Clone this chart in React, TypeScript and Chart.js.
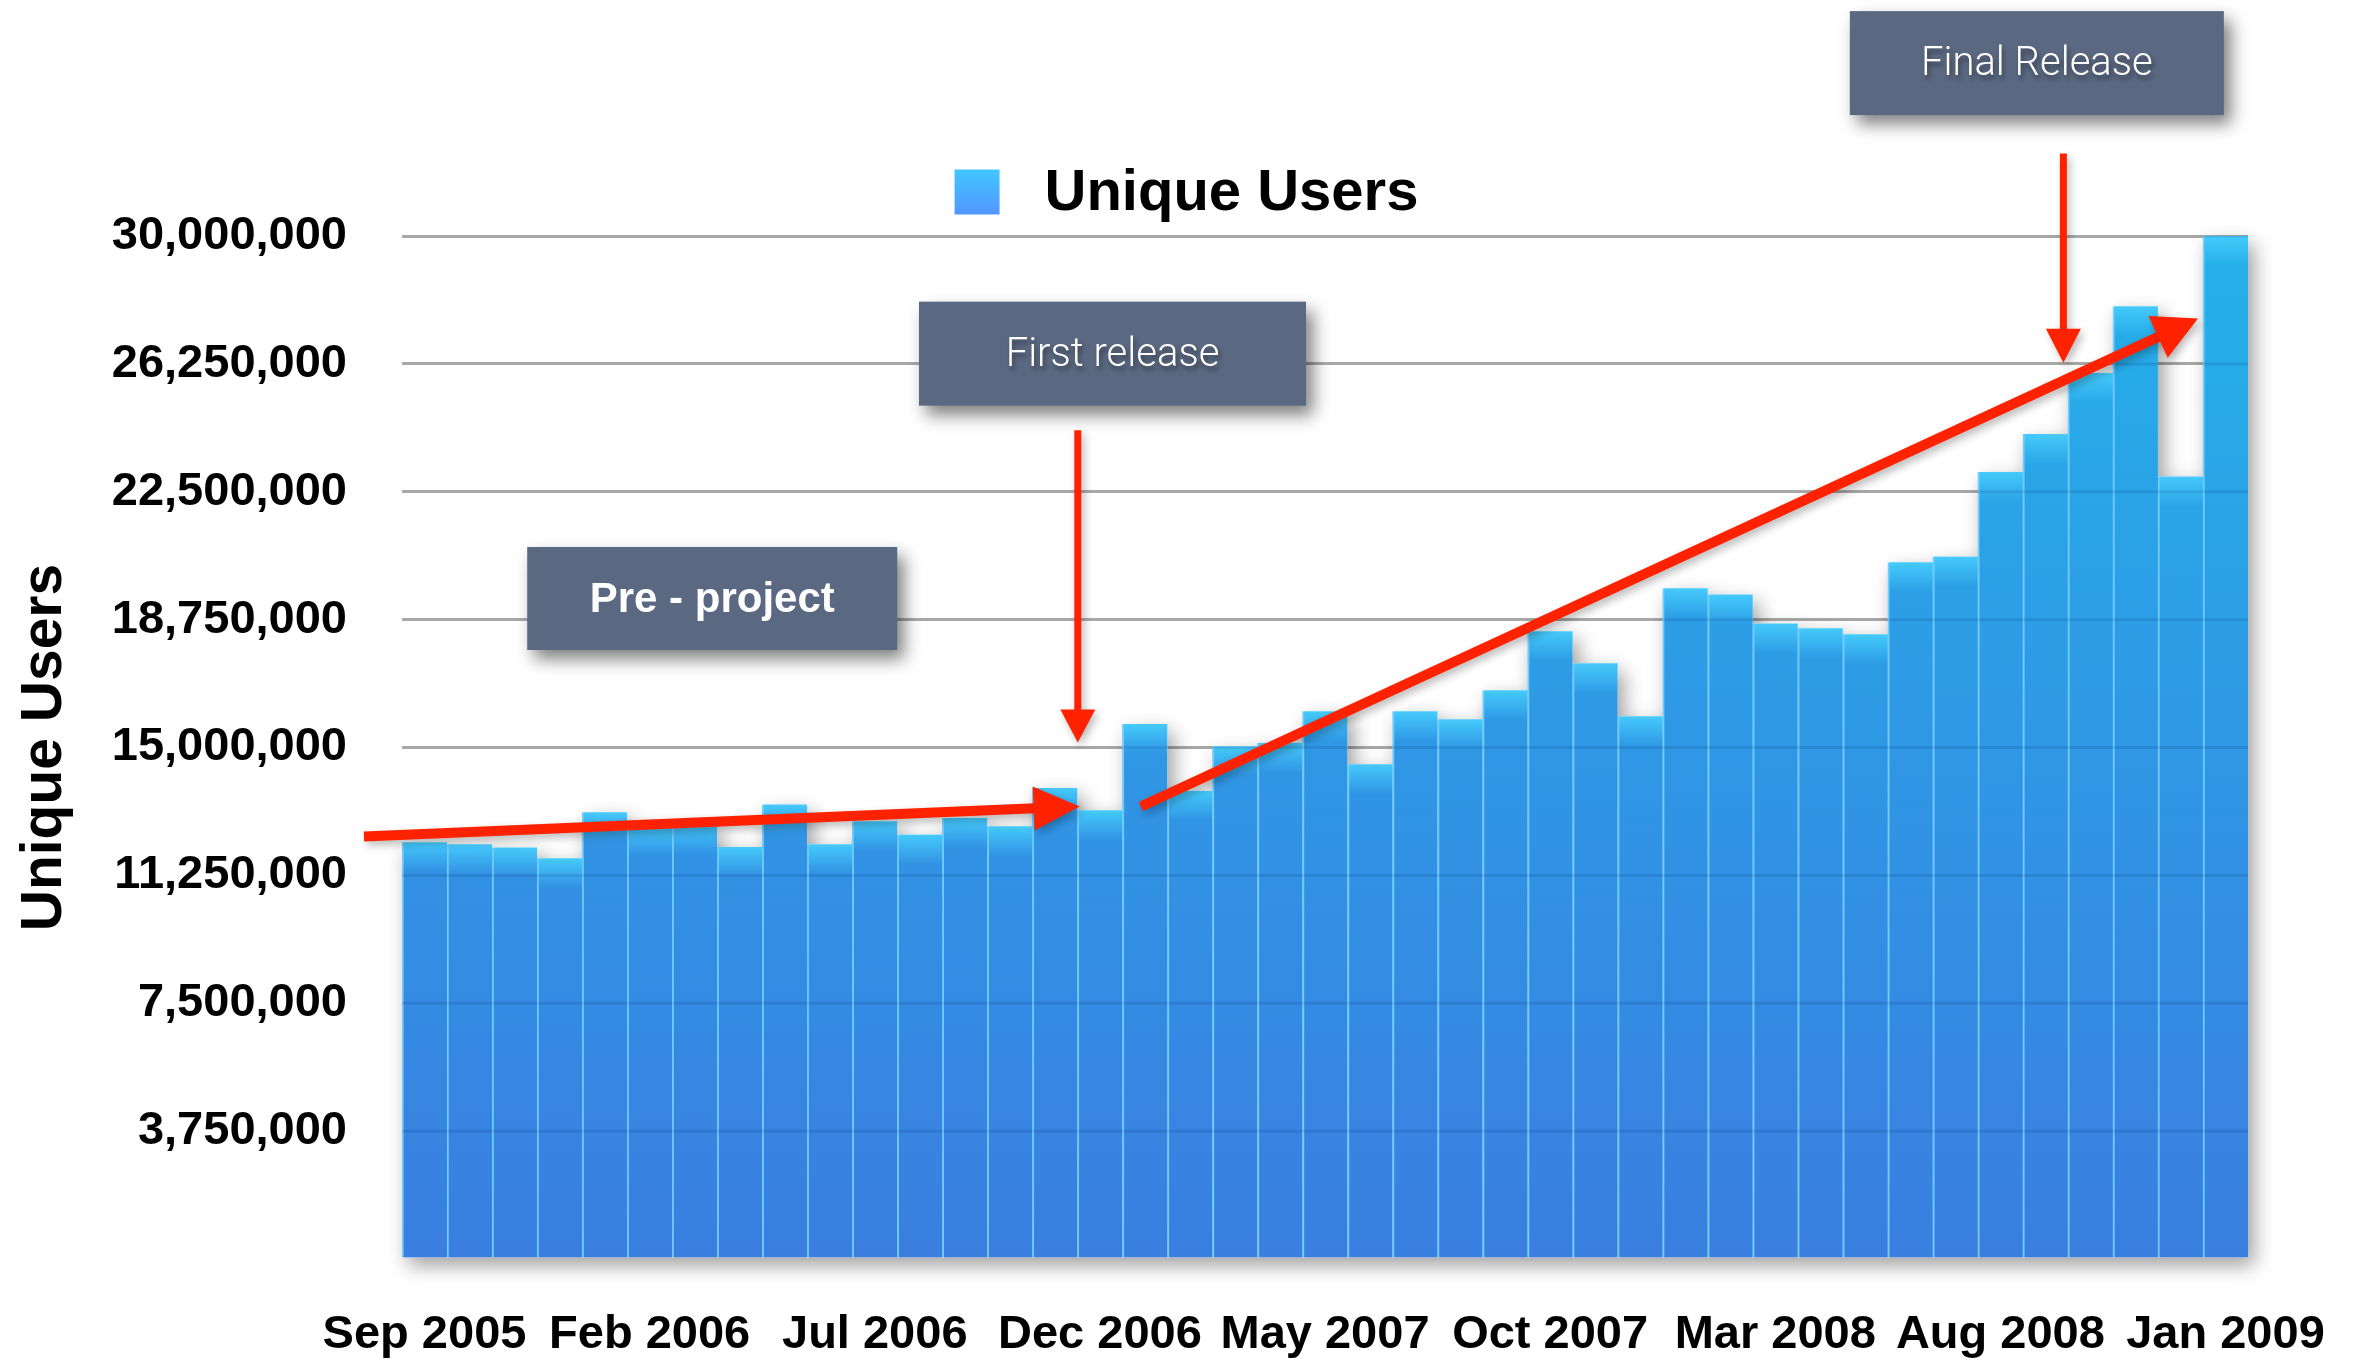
import React, { useEffect, useRef } from 'react';
import { Chart, registerables } from 'chart.js';

Chart.register(...registerables);

// ---------- data ----------
const MONTHS = [
  'Sep 2005', 'Oct 2005', 'Nov 2005', 'Dec 2005',
  'Jan 2006', 'Feb 2006', 'Mar 2006', 'Apr 2006', 'May 2006', 'Jun 2006',
  'Jul 2006', 'Aug 2006', 'Sep 2006', 'Oct 2006', 'Nov 2006', 'Dec 2006',
  'Jan 2007', 'Feb 2007', 'Mar 2007', 'Apr 2007', 'May 2007', 'Jun 2007',
  'Jul 2007', 'Aug 2007', 'Sep 2007', 'Oct 2007', 'Nov 2007', 'Dec 2007',
  'Jan 2008', 'Feb 2008', 'Mar 2008', 'Apr 2008', 'May 2008', 'Jun 2008',
  'Jul 2008', 'Aug 2008', 'Sep 2008', 'Oct 2008', 'Nov 2008', 'Dec 2008',
  'Jan 2009',
];

const UNIQUE_USERS = [
  12220000, 12160000, 12070000, 11750000,
  13100000, 12700000, 12750000, 12080000, 13330000, 12160000,
  12840000, 12450000, 12930000, 12690000, 13810000, 13160000,
  15690000, 13730000, 15040000, 15140000, 16060000, 14510000,
  16060000, 15830000, 16680000, 18410000, 17470000, 15920000,
  19670000, 19490000, 18640000, 18500000, 18320000, 20430000,
  20600000, 23080000, 24190000, 25980000, 27940000, 22950000,
  30000000,
];

const Y_MIN = 0;
const Y_MAX = 30000000;
const Y_STEP = 3750000;
const X_LABEL_EVERY = 5;

const SERIES_LABEL = 'Unique Users';
const Y_TITLE = 'Unique Users';

// annotations, in data space (category index, value)
const NOTE_TEXTS = ['Pre - project', 'First release', 'Final Release'];
const NOTE_INDEX = [6.39, 15.28, 35.81];
const NOTE_VALUE = [19370000, 26550000, 35070000];

const ARROW_FROM_INDEX = [-1.345, 14.51, 15.91, 36.4];
const ARROW_FROM_VALUE = [12390000, 24300000, 13270000, 32420000];
const ARROW_TO_INDEX = [14.55, 14.51, 39.39, 36.4];
const ARROW_TO_VALUE = [13270000, 15150000, 27580000, 26280000];

// ---------- styles ----------
const FONT = '"Liberation Sans", Arial, Helvetica, sans-serif';
const LIGHT_FONT = 'Roboto, "Liberation Sans", Arial, sans-serif';
const TOP_RGB = [0x24, 0xb1, 0xe9];
const BOTTOM_RGB = [0x3a, 0x7e, 0xe0];
const LEGEND_BOX_WIDTH = 79;
const LEGEND_SWATCH_SHIFT = 18;

function mix(t: number) {
  const c = Math.max(0, Math.min(1, t));
  const r = TOP_RGB.map((a, i) => Math.round(a + (BOTTOM_RGB[i] - a) * c));
  return `rgb(${r[0]},${r[1]},${r[2]})`;
}

function barRects(chart: any) {
  const meta = chart.getDatasetMeta(0);
  return meta.data.map((bar: any) => {
    const p = bar.getProps(['x', 'y', 'base', 'width'], true);
    return { x: p.x - p.width / 2, y: p.y, w: p.width, h: p.base - p.y };
  });
}

function drawArrow(ctx: CanvasRenderingContext2D, x1: number, y1: number, x2: number, y2: number,
  lw: number, headLen: number, headW: number) {
  const dx = x2 - x1, dy = y2 - y1;
  const len = Math.hypot(dx, dy);
  const ux = dx / len, uy = dy / len;
  const bx = x2 - ux * headLen, by = y2 - uy * headLen;
  ctx.beginPath();
  ctx.moveTo(x1, y1);
  ctx.lineTo(bx + ux * 2, by + uy * 2);
  ctx.lineWidth = lw;
  ctx.lineCap = 'butt';
  ctx.stroke();
  ctx.beginPath();
  ctx.moveTo(x2, y2);
  ctx.lineTo(bx - uy * headW / 2, by + ux * headW / 2);
  ctx.lineTo(bx + uy * headW / 2, by - ux * headW / 2);
  ctx.closePath();
  ctx.fill();
}

const decorPlugin = {
  id: 'decor',
  beforeDatasetsDraw(chart: any) {
    const ctx = chart.ctx as CanvasRenderingContext2D;
    const rects = barRects(chart);
    ctx.save();
    ctx.shadowColor = 'rgba(0,0,0,0.38)';
    ctx.shadowBlur = 20;
    ctx.shadowOffsetX = 6;
    ctx.shadowOffsetY = 8;
    ctx.fillStyle = '#ffffff';
    ctx.beginPath();
    rects.forEach((r: any) => ctx.rect(r.x, r.y, r.w, r.h));
    ctx.fill();
    ctx.restore();
  },
  afterDatasetsDraw(chart: any) {
    const ctx = chart.ctx as CanvasRenderingContext2D;
    const { left, right } = chart.chartArea;
    const ys = chart.scales.y;
    const xs = chart.scales.x;
    const rects = barRects(chart);
    // grid lines showing through the bars
    ctx.save();
    ctx.beginPath();
    rects.forEach((r: any) => ctx.rect(r.x, r.y, r.w, r.h));
    ctx.clip();
    ctx.strokeStyle = 'rgba(0,40,110,0.13)';
    ctx.lineWidth = 3;
    ys.ticks.forEach((t: any) => {
      if (t.value === 0) return;
      const y = ys.getPixelForValue(t.value);
      ctx.beginPath();
      ctx.moveTo(left, y);
      ctx.lineTo(right, y);
      ctx.stroke();
    });
    ctx.restore();
    // arrows
    ctx.save();
    ctx.strokeStyle = '#ff2200';
    ctx.fillStyle = '#ff2200';
    ctx.shadowColor = 'rgba(0,0,0,0.28)';
    ctx.shadowBlur = 8;
    ctx.shadowOffsetX = 3;
    ctx.shadowOffsetY = 4;
    const lws = [10, 7, 10, 7];
    const heads = [[46, 44], [33, 35], [44, 46], [34, 35]];
    ARROW_FROM_INDEX.forEach((fi, i) => {
      const x1 = xs.getPixelForValue(fi);
      const y1 = ys.getPixelForValue(ARROW_FROM_VALUE[i]);
      const x2 = xs.getPixelForValue(ARROW_TO_INDEX[i]);
      const y2 = ys.getPixelForValue(ARROW_TO_VALUE[i]);
      drawArrow(ctx, x1, y1, x2, y2, lws[i], heads[i][0], heads[i][1]);
    });
    ctx.restore();
  },
  afterDraw(chart: any) {
    const ctx = chart.ctx as CanvasRenderingContext2D;
    const ys = chart.scales.y;
    const xs = chart.scales.x;
    // legend swatch
    const lg = chart.legend;
    if (lg && lg.legendHitBoxes && lg.legendHitBoxes[0]) {
      const hb = lg.legendHitBoxes[0];
      const s = 45;
      const bx = hb.left + LEGEND_SWATCH_SHIFT;
      const by = hb.top + hb.height / 2 - s / 2 - 2;
      const g = ctx.createLinearGradient(0, by, 0, by + s);
      g.addColorStop(0, '#41c7ff');
      g.addColorStop(1, '#5396ff');
      ctx.fillStyle = g;
      ctx.fillRect(bx, by, s, s);
    }
    // annotation boxes
    const sizes = [[370, 103], [387, 104], [374, 104]];
    NOTE_TEXTS.forEach((text, i) => {
      const cx = xs.getPixelForValue(NOTE_INDEX[i]);
      const cy = ys.getPixelForValue(NOTE_VALUE[i]);
      const [w, h] = sizes[i];
      ctx.save();
      ctx.shadowColor = 'rgba(0,0,0,0.5)';
      ctx.shadowBlur = 16;
      ctx.shadowOffsetX = 7;
      ctx.shadowOffsetY = 9;
      ctx.fillStyle = '#5a6881';
      ctx.fillRect(cx - w / 2, cy - h / 2, w, h);
      ctx.restore();
      ctx.save();
      ctx.fillStyle = '#ffffff';
      ctx.textAlign = 'center';
      ctx.textBaseline = 'middle';
      if (i === 0) {
        ctx.font = `bold 42px ${FONT}`;
      } else {
        ctx.font = `300 40px ${LIGHT_FONT}`;
        ctx.shadowColor = 'rgba(0,0,0,0.45)';
        ctx.shadowBlur = 5;
        ctx.shadowOffsetX = 2;
        ctx.shadowOffsetY = 4;
      }
      ctx.fillText(text, cx, cy + 2);
      ctx.restore();
    });
  },
};

export default function App() {
  const ref = useRef<HTMLCanvasElement>(null);

  useEffect(() => {
    if (!ref.current) return;
    const chart = new Chart(ref.current, {
      type: 'bar',
      data: {
        labels: MONTHS,
        datasets: [
          {
            label: SERIES_LABEL,
            data: UNIQUE_USERS,
            yAxisID: 'y',
            backgroundColor: (c: any) => {
              const ch = c.chart;
              const area = ch.chartArea;
              if (!area || c.type !== 'data') return '#2aa6e6';
              const ys = ch.scales.y;
              const top = ys.getPixelForValue(c.raw);
              const bottom = ys.getPixelForValue(0);
              const h = Math.max(1, bottom - top);
              const span = area.bottom - area.top;
              const hl = 30;
              const g = ch.ctx.createLinearGradient(0, top, 0, bottom);
              g.addColorStop(0, '#45cafb');
              g.addColorStop(Math.min(0.98, hl / h), mix((top + hl - area.top) / span));
              g.addColorStop(1, mix(1));
              return g;
            },
            borderColor: 'rgba(22,172,250,0.6)',
            borderWidth: { left: 2, right: 0, top: 0, bottom: 0 },
            borderSkipped: false,
            barPercentage: 1,
            categoryPercentage: 1,
          } as any,
        ],
      },
      options: {
        animation: false,
        responsive: false,
        devicePixelRatio: 1,
        layout: { padding: { top: 152, right: 0, bottom: 0, left: 0 } },
        plugins: {
          tooltip: { enabled: false },
          legend: {
            display: true,
            position: 'top',
            labels: {
              font: { family: FONT, size: 58, weight: 'bold' },
              color: '#000000',
              boxWidth: LEGEND_BOX_WIDTH,
              boxHeight: 64,
              padding: 10,
              generateLabels: () => [
                {
                  text: SERIES_LABEL,
                  fillStyle: 'rgba(0,0,0,0)',
                  strokeStyle: 'rgba(0,0,0,0)',
                  lineWidth: 0,
                  hidden: false,
                  datasetIndex: 0,
                  fontColor: '#000000',
                } as any,
              ],
            },
          },
        },
        scales: {
          x: {
            type: 'category',
            offset: true,
            grid: { display: false },
            border: { display: false },
            ticks: {
              autoSkip: false,
              maxRotation: 0,
              minRotation: 0,
              padding: 40,
              color: '#000000',
              font: { family: FONT, size: 47, weight: 'bold' },
              callback: (_v: any, i: number) => (i % X_LABEL_EVERY === 0 ? MONTHS[i] : ''),
            },
            afterFit: (s: any) => { s.height = 100; s.paddingLeft = 0; s.paddingRight = 0; },
          },
          y: {
            position: 'left',
            min: Y_MIN,
            max: Y_MAX,
            border: { display: false },
            grid: {
              color: (c: any) => (c.tick && c.tick.value === 0 ? 'rgba(0,0,0,0)' : '#a8a8a8'),
              lineWidth: 3,
              drawTicks: false,
            },
            ticks: {
              stepSize: Y_STEP,
              padding: 55,
              color: '#000000',
              font: { family: FONT, size: 47, weight: 'bold' },
              callback: (v: any) => (Number(v) === 0 ? '' : Number(v).toLocaleString('en-US')),
            },
            title: {
              display: true,
              text: Y_TITLE,
              color: '#000000',
              font: { family: FONT, size: 57, weight: 'bold', lineHeight: 1 },
              padding: { top: 17, bottom: 0 },
            },
            afterFit: (s: any) => { s.width = 402; },
          },
          yRight: {
            position: 'right',
            min: Y_MIN,
            max: Y_MAX,
            grid: { display: false, drawOnChartArea: false },
            border: { display: false },
            ticks: { display: false },
            afterFit: (s: any) => { s.width = 107; },
          },
        },
      },
      plugins: [decorPlugin],
    });
    return () => chart.destroy();
  }, []);

  return (
    <div style={{ position: 'fixed', left: 0, top: 0, width: 2355, height: 1359, background: '#ffffff' }}>
      <canvas ref={ref} width={2355} height={1359} style={{ display: 'block', width: 2355, height: 1359 }} />
    </div>
  );
}
